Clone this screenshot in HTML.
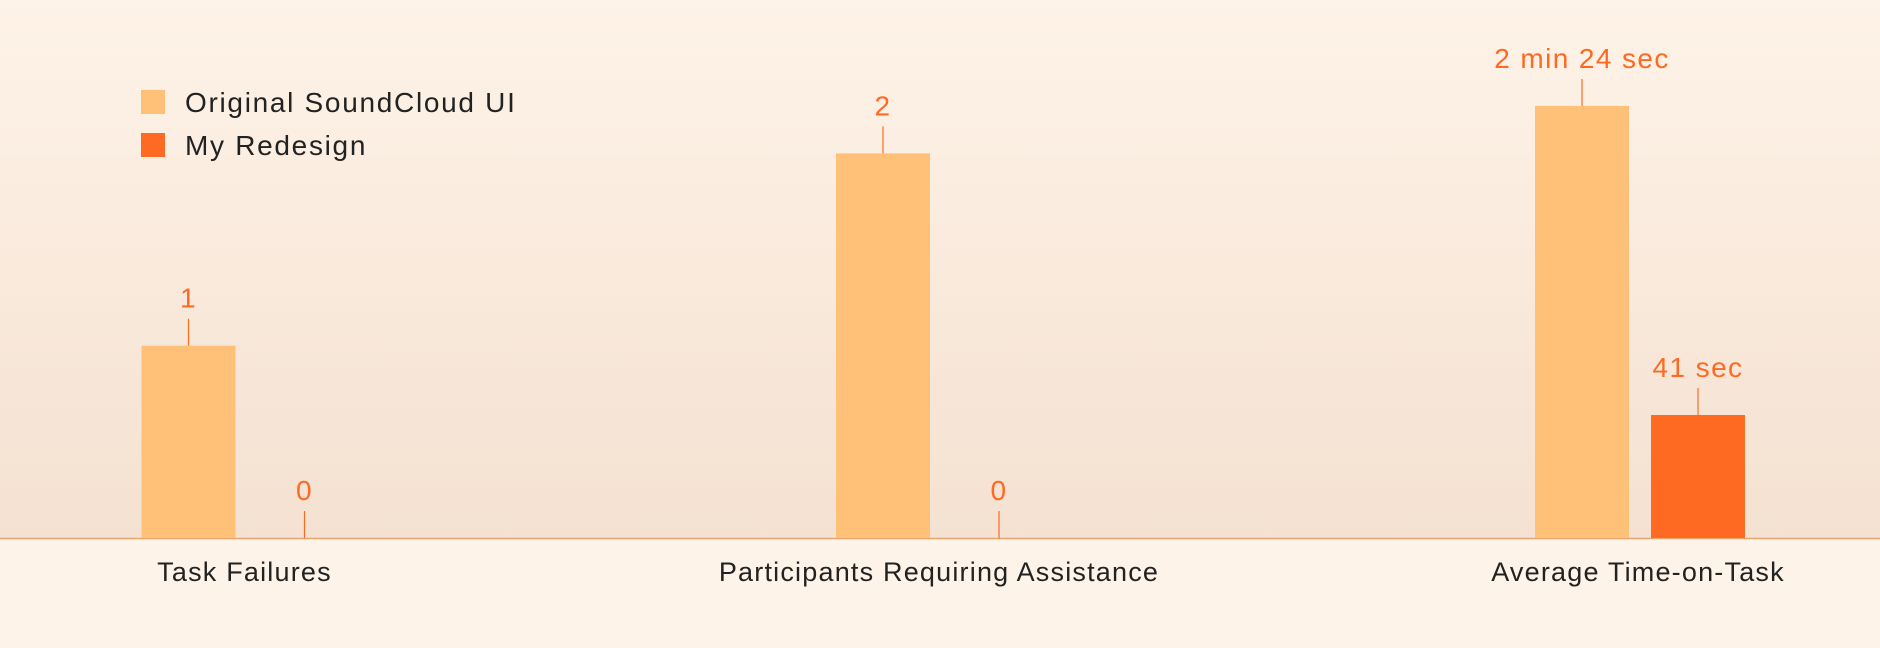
<!DOCTYPE html>
<html><head><meta charset="utf-8"><style>
html,body{margin:0;padding:0;background:#fef3e8;}
svg{display:block;font-family:"Liberation Sans",sans-serif;}
</style></head><body>
<svg id="chart" width="1880" height="648" viewBox="0 0 1880 648" xmlns="http://www.w3.org/2000/svg">
<defs><linearGradient id="bg" x1="0" y1="0" x2="0" y2="1">
<stop offset="0" stop-color="#fef3e8"/><stop offset="1" stop-color="#f4e1d1"/></linearGradient></defs>
<rect x="0" y="0" width="1880" height="538" fill="url(#bg)"/>
<line x1="0" y1="538.5" x2="1880" y2="538.5" stroke="#e9a46e" stroke-width="1.5"/>
<g>
<rect x="141" y="90" width="24" height="24" fill="#ffc178"/>
<text x="185" y="112" font-size="28" letter-spacing="1.7" fill="#222">Original SoundCloud UI</text>
<rect x="141" y="133" width="24" height="24" fill="#ff6a22"/>
<text x="185" y="155" font-size="28" letter-spacing="1.7" fill="#222">My Redesign</text>
</g>
<g id="marks"></g>
</svg>
<script>
const categories = ["Task Failures","Participants Requiring Assistance","Average Time-on-Task"];
const originalValues = [1, 2, 144];
const redesignValues = [0, 0, 41];
const originalLabels = ["1","2","2 min 24 sec"];
const redesignLabels = ["0","0","41 sec"];
const groupX = [141.5, 836, 1535];
const baseY = 538, barW = 94, gap = 116;
function yScale(i, v){ const k = i < 2 ? 192.3 : 3.0; return baseY - v * k; }
const NS = "http://www.w3.org/2000/svg";
const g = document.getElementById('marks');
function mk(tag, attrs){ const e = document.createElementNS(NS, tag); for (const k in attrs) e.setAttribute(k, attrs[k]); g.appendChild(e); return e; }
function drawBar(i, v, lab, x, color, nm){
  const top = yScale(i, v);
  if (v > 0) {
    const r = mk('rect', {x:x, y:top, width:barW, height:baseY-top, fill:color});
    
    
  }
  const cx = x + barW/2;
  const t = mk('line', {x1:cx, y1:top-27, x2:cx, y2:top, stroke:'#ff6a22', 'stroke-width':1.2});
  
  
  const tx = mk('text', {x:cx, y:top-38, 'text-anchor':'middle', 'font-size':28, 'letter-spacing':1.4, fill:'#ff6a22'});
  tx.textContent = lab;
  
  
}
categories.forEach((c, i) => {
  drawBar(i, originalValues[i], originalLabels[i], groupX[i], '#ffc178', 'original');
  drawBar(i, redesignValues[i], redesignLabels[i], groupX[i] + gap, '#ff6a22', 'redesign');
  const l = mk('text', {x:groupX[i] + (gap + barW)/2 - 2, y:581, 'text-anchor':'middle', 'font-size':27, 'letter-spacing':1.2, fill:'#222'});
  l.textContent = c;
  
  
});
</script>
</body></html>
